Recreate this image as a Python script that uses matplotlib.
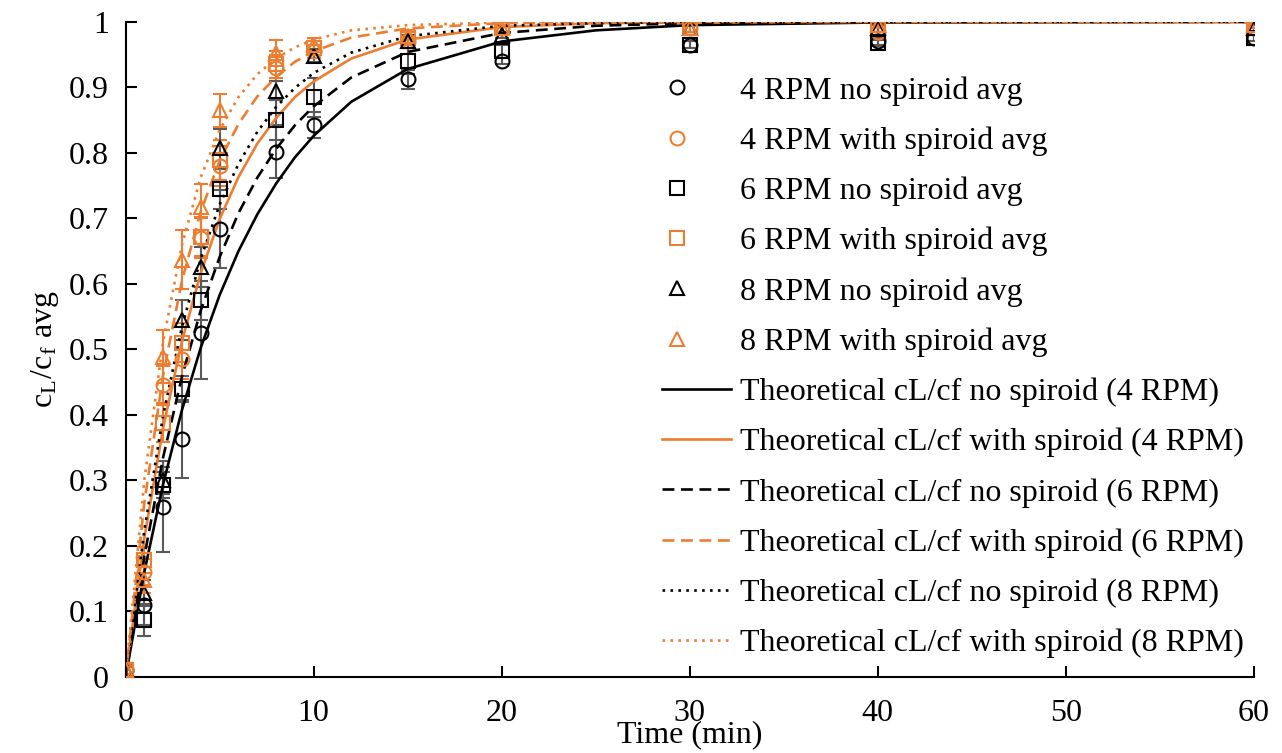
import numpy as np
import matplotlib.pyplot as plt
from matplotlib.ticker import FuncFormatter
from matplotlib.legend_handler import HandlerLine2D

plt.rcParams['font.family'] = ['Liberation Serif', 'DejaVu Serif']
plt.rcParams['mathtext.fontset'] = 'stix'

# measured averages
t = [0, 1, 2, 3, 4, 5, 8, 10, 15, 20, 30, 40, 60]
rpm4_no = [0.01, 0.11, 0.26, 0.363, 0.525, 0.684, 0.802, 0.843, 0.912, 0.94, 0.965, 0.97, 0.975]
rpm4_no_err = [0.005, 0.03, 0.07, 0.06, 0.07, 0.06, 0.04, 0.02, 0.015, 0.005, 0.005, 0.005, 0.005]
rpm4_sp = [0.01, 0.16, 0.445, 0.485, 0.67, 0.78, 0.93, 0.955, 0.97, 0.99, 0.99, 0.985, 0.99]
rpm4_sp_err = [0.005, 0.02, 0.03, 0.03, 0.03, 0.03, 0.02, 0.01, 0.01, 0.005, 0.005, 0.005, 0.005]
rpm6_no = [0.01, 0.087, 0.293, 0.44, 0.575, 0.745, 0.85, 0.885, 0.94, 0.955, 0.965, 0.968, 0.975]
rpm6_no_err = [0.005, 0.025, 0.02, 0.02, 0.03, 0.03, 0.03, 0.03, 0.02, 0.01, 0.005, 0.005, 0.005]
rpm6_sp = [0.01, 0.178, 0.388, 0.51, 0.672, 0.789, 0.935, 0.96, 0.975, 0.99, 0.99, 0.99, 0.99]
rpm6_sp_err = [0.005, 0.02, 0.03, 0.03, 0.03, 0.03, 0.02, 0.01, 0.01, 0.005, 0.005, 0.005, 0.005]
rpm8_no = [0.01, 0.128, 0.30, 0.545, 0.626, 0.807, 0.895, 0.948, 0.97, 0.98, 0.99, 0.99, 0.99]
rpm8_no_err = [0.005, 0.02, 0.02, 0.03, 0.03, 0.03, 0.015, 0.01, 0.01, 0.005, 0.005, 0.005, 0.005]
rpm8_sp = [0.01, 0.148, 0.489, 0.637, 0.718, 0.865, 0.952, 0.965, 0.978, 0.99, 0.99, 0.995, 0.995]
rpm8_sp_err = [0.005, 0.02, 0.04, 0.045, 0.035, 0.025, 0.02, 0.01, 0.01, 0.005, 0.005, 0.005, 0.005]

# theoretical curves
t_th = [0, 1, 2, 3, 4, 5, 6, 7, 8, 9, 10, 12, 15, 20, 25, 30, 40, 60]
th4_no = [0, 0.161, 0.295, 0.408, 0.503, 0.583, 0.65, 0.706, 0.753, 0.793, 0.826, 0.878, 0.928, 0.97, 0.987, 0.995, 0.999, 1.0]
th4_sp = [0, 0.213, 0.381, 0.513, 0.617, 0.699, 0.763, 0.814, 0.853, 0.885, 0.909, 0.944, 0.973, 0.992, 0.998, 0.999, 1.0, 1.0]
th6_no = [0, 0.185, 0.336, 0.459, 0.56, 0.641, 0.708, 0.762, 0.806, 0.842, 0.871, 0.915, 0.954, 0.983, 0.994, 0.998, 1.0, 1.0]
th6_sp = [0, 0.267, 0.462, 0.605, 0.711, 0.788, 0.844, 0.886, 0.916, 0.939, 0.955, 0.976, 0.99, 0.998, 1.0, 1.0, 1.0, 1.0]
th8_no = [0, 0.225, 0.40, 0.535, 0.639, 0.721, 0.783, 0.832, 0.87, 0.899, 0.922, 0.953, 0.978, 0.994, 0.998, 1.0, 1.0, 1.0]
th8_sp = [0, 0.302, 0.513, 0.66, 0.763, 0.835, 0.885, 0.92, 0.944, 0.961, 0.973, 0.987, 0.995, 0.999, 1.0, 1.0, 1.0, 1.0]

orange = '#ED7D31'
gray = '#595959'
fs = 23


class LeftMarker(HandlerLine2D):
    # marker sits near the left of the handle box, like the Excel legend
    def get_xdata(self, legend, xdescent, ydescent, width, height, fontsize):
        xd = np.array([-xdescent + 0.22 * width])
        return xd, xd


fig = plt.figure(figsize=(12.82, 7.53), dpi=100)
ax = fig.add_axes([0.098, 0.101, 0.88, 0.870])

series = [
    (rpm4_no, rpm4_no_err, 'o', 'black', gray, '4 RPM no spiroid avg'),
    (rpm4_sp, rpm4_sp_err, 'o', orange, orange, '4 RPM with spiroid avg'),
    (rpm6_no, rpm6_no_err, 's', 'black', gray, '6 RPM no spiroid avg'),
    (rpm6_sp, rpm6_sp_err, 's', orange, orange, '6 RPM with spiroid avg'),
    (rpm8_no, rpm8_no_err, '^', 'black', gray, '8 RPM no spiroid avg'),
    (rpm8_sp, rpm8_sp_err, '^', orange, orange, '8 RPM with spiroid avg'),
]
handles = []
hmap = {}
for y, e, m, c, ec, lab in series:
    ax.errorbar(t, y, yerr=e, fmt='none', ecolor=ec, elinewidth=1.5, capsize=5, capthick=1.5, zorder=2)
    h, = ax.plot(t, y, linestyle='none', marker=m, markersize=10, markerfacecolor='none',
                 markeredgecolor=c, markeredgewidth=1.5, label=lab, zorder=3)
    handles.append(h)
    hmap[h] = LeftMarker(numpoints=1)

lines = [
    (th4_no, 'black', '-', 'Theoretical cL/cf no spiroid (4 RPM)'),
    (th4_sp, orange, '-', 'Theoretical cL/cf with spiroid (4 RPM)'),
    (th6_no, 'black', (0, (4.5, 2.5)), 'Theoretical cL/cf no spiroid (6 RPM)'),
    (th6_sp, orange, (0, (4.5, 2.5)), 'Theoretical cL/cf with spiroid (6 RPM)'),
    (th8_no, 'black', (0, (1, 2)), 'Theoretical cL/cf no spiroid (8 RPM)'),
    (th8_sp, orange, (0, (1, 2)), 'Theoretical cL/cf with spiroid (8 RPM)'),
]
for y, c, ls, lab in lines:
    h, = ax.plot(t_th, y, color=c, linestyle=ls, linewidth=1.9, label=lab, zorder=2.5)
    handles.append(h)

ax.set_xlim(0, 60)
ax.set_ylim(0, 1)
ax.set_xticks(np.arange(0, 61, 10))
ax.set_yticks(np.arange(0, 1.01, 0.1))
ax.yaxis.set_major_formatter(FuncFormatter(lambda v, p: '%g' % round(v, 1)))
ax.spines['top'].set_visible(False)
ax.spines['right'].set_visible(False)
ax.spines['left'].set_linewidth(1.5)
ax.spines['bottom'].set_linewidth(1.5)
ax.tick_params(direction='in', length=8, width=1.5, labelsize=fs, pad=12)
ax.tick_params(axis='x', pad=16)

ax.set_xlabel('Time (min)', fontsize=fs, labelpad=-6)
ax.set_ylabel(r'c$_\mathregular{L}$/c$_\mathregular{f}$ avg', fontsize=fs, labelpad=6)

ax.legend(handles=handles, handler_map=hmap, loc='upper left',
          bbox_to_anchor=(662 / 1282, 1 - 76 / 753), bbox_transform=fig.transFigure,
          frameon=False, fontsize=fs, labelspacing=0.65, handlelength=2.15,
          handletextpad=0.3, borderpad=0, borderaxespad=0)

fig.savefig('out.png', dpi=100)
